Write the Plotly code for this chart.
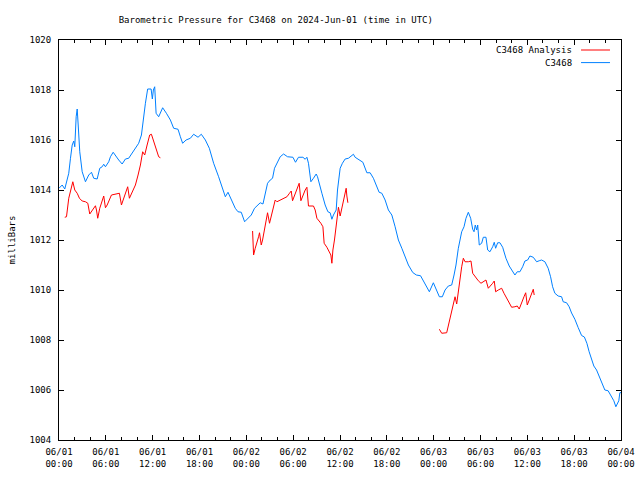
import pandas as pd
import plotly.graph_objects as go

START = pd.Timestamp("2024-06-01 00:00")

# C3468 observations: hours after 2024-06-01 00:00 UTC and pressure (mb)
blue_hours = [0, 0.41, 0.74, 1.05, 1.25, 1.47, 1.69, 1.89, 2.02, 2.2,
              2.33, 2.46, 2.66, 2.97, 3.39, 3.81, 4.16, 4.45, 4.89, 5.22,
              5.53, 5.73, 5.95, 6.37, 6.59, 6.94, 7.23, 7.65, 8.09, 8.51,
              8.93, 9.37, 9.79, 10.21, 10.56, 10.85, 11.07, 11.36, 11.8, 11.96,
              12.09, 12.26, 12.44, 12.77, 13.28, 13.76, 14.27, 14.69, 15.25, 15.55,
              15.84, 16.28, 16.83, 17.25, 17.81, 18.23, 18.75, 19.26, 19.81, 20.45,
              20.88, 21.31, 21.65, 22.07, 22.58, 22.93, 23.35, 23.78, 24.08, 24.63,
              25.05, 25.36, 25.78, 26.13, 26.42, 26.72, 27.06, 27.36, 27.61, 27.92,
              28.34, 28.77, 29.28, 29.97, 30.3, 30.68, 31.25, 31.54, 31.76, 31.96,
              32.09, 32.27, 32.6, 32.95, 33.12, 33.37, 33.68, 34.1, 34.45, 34.74,
              34.96, 35.16, 35.51, 35.68, 35.8, 36.02, 36.31, 36.66, 37.08, 37.39,
              37.72, 37.94, 38.36, 38.93, 39.44, 39.86, 40.28, 40.72, 41.01, 41.36,
              41.78, 42.2, 42.64, 43.06, 43.48, 43.92, 44.34, 44.76, 45.32, 45.78,
              46.32, 46.6, 47.12, 47.45, 47.96, 48.39, 48.73, 49.11, 49.46, 49.88,
              50.31, 50.61, 50.86, 51.16, 51.38, 51.59, 51.89, 52.14, 52.44, 52.74,
              53.0, 53.17, 53.33, 53.51, 53.64, 53.84, 54.15, 54.36, 54.7, 54.92,
              55.21, 55.56, 55.76, 55.94, 56.2, 56.49, 56.84, 57.26, 57.68, 58.12,
              58.41, 58.71, 59.05, 59.4, 59.69, 60.04, 60.33, 60.76, 61.19, 61.52,
              61.83, 62.25, 62.67, 62.98, 63.24, 63.53, 63.95, 64.39, 64.59, 65.03,
              65.36, 65.67, 66.09, 66.51, 66.95, 67.31, 67.63, 67.92, 68.23, 68.52,
              68.87, 69.2, 69.64, 69.93, 70.35, 70.79, 71.08, 71.34, 71.55, 71.72,
              71.85, 72.0]
blue_values = [1014.07, 1014.2, 1014.04, 1014.47, 1014.67, 1015.27, 1015.8, 1015.96, 1015.73, 1016.93,
               1017.24, 1016.6, 1015.53, 1014.73, 1014.33, 1014.6, 1014.71, 1014.47, 1014.44, 1014.87,
               1014.93, 1015.03, 1014.93, 1015.13, 1015.33, 1015.51, 1015.37, 1015.2, 1015.04, 1015.24,
               1015.27, 1015.47, 1015.67, 1015.87, 1016.2, 1017.0, 1017.47, 1018.04, 1018.04, 1017.64,
               1018.0, 1018.13, 1017.07, 1016.93, 1017.29, 1017.07, 1016.8, 1016.47, 1016.43, 1016.13,
               1015.87, 1016.0, 1016.07, 1016.23, 1016.11, 1016.23, 1016.0, 1015.67, 1015.07, 1014.53,
               1014.13, 1013.73, 1013.91, 1013.6, 1013.27, 1013.13, 1013.11, 1012.73, 1012.84, 1013.0,
               1013.27, 1013.36, 1013.49, 1013.44, 1013.87, 1014.27, 1014.4, 1014.47, 1014.87, 1015.07,
               1015.33, 1015.44, 1015.33, 1015.31, 1015.11, 1015.31, 1015.31, 1015.23, 1015.31, 1015.07,
               1014.67, 1014.33, 1014.47, 1014.64, 1014.53, 1014.2, 1013.87, 1013.4, 1013.13, 1013.09,
               1012.83, 1013.0, 1013.2, 1014.0, 1014.4, 1014.87, 1015.07, 1015.24, 1015.27, 1015.36,
               1015.43, 1015.31, 1015.23, 1015.11, 1014.69, 1014.69, 1014.47, 1014.13, 1013.91, 1013.87,
               1013.6, 1013.2, 1013.0, 1012.53, 1012.0, 1011.67, 1011.33, 1011.0, 1010.7, 1010.6,
               1010.57, 1010.4, 1010.07, 1009.93, 1010.29, 1009.93, 1009.73, 1009.73, 1010.0, 1010.16,
               1010.2, 1010.6, 1011.0, 1011.67, 1012.07, 1012.33, 1012.53, 1012.87, 1013.11, 1012.87,
               1012.43, 1012.33, 1012.6, 1012.4, 1012.6, 1011.8, 1011.87, 1012.11, 1012.11, 1011.6,
               1011.53, 1011.73, 1011.91, 1011.67, 1011.89, 1011.89, 1011.71, 1011.27, 1010.96, 1010.77,
               1010.6, 1010.73, 1010.73, 1010.93, 1011.16, 1011.2, 1011.36, 1011.31, 1011.13, 1011.17,
               1011.2, 1011.13, 1010.87, 1010.53, 1010.13, 1009.87, 1009.76, 1009.73, 1009.53, 1009.49,
               1009.33, 1009.08, 1008.83, 1008.5, 1008.18, 1008.12, 1007.87, 1007.53, 1007.27, 1006.96,
               1006.8, 1006.53, 1006.2, 1006.0, 1005.97, 1005.76, 1005.57, 1005.33, 1005.47, 1005.57,
               1005.89, 1005.9]

# C3468 Analysis: three separate segments
red1_hours = [0.74, 0.96, 1.25, 1.47, 1.77, 2.02, 2.33, 2.62, 2.97, 3.39,
              3.69, 3.94, 4.25, 4.67, 4.8, 4.96, 5.22, 5.53, 5.73, 5.95,
              6.17, 6.72, 7.23, 7.74, 8.0, 8.29, 8.51, 8.8, 9.02, 9.44,
              9.79, 10.13, 10.43, 10.72, 10.98, 11.29, 11.62, 11.84, 12.13, 12.44,
              12.77, 12.99]
red1_values = [1012.91, 1012.93, 1013.67, 1013.93, 1014.33, 1014.0, 1013.87, 1013.67, 1013.56, 1013.53,
               1013.47, 1013.04, 1013.16, 1013.37, 1013.2, 1012.87, 1013.27, 1013.53, 1013.76, 1013.29,
               1013.4, 1013.8, 1013.84, 1013.87, 1013.4, 1013.67, 1013.93, 1014.13, 1013.67, 1013.93,
               1014.2, 1014.6, 1015.0, 1015.53, 1015.4, 1015.8, 1016.2, 1016.23, 1015.96, 1015.67,
               1015.33, 1015.29]
red2_hours = [24.8, 24.85, 24.93, 25.14, 25.36, 25.57, 25.69, 25.91, 26.08, 26.33,
              26.55, 26.72, 26.97, 27.15, 27.41, 27.7, 27.92, 28.34, 28.77, 29.2,
              29.53, 29.75, 29.92, 30.13, 30.39, 30.61, 30.77, 30.99, 31.25, 31.54,
              31.76, 31.89, 31.96, 32.6, 32.82, 33.04, 33.24, 33.55, 33.81, 33.97,
              34.32, 34.65, 34.83, 34.96, 35.09, 35.29, 35.51, 35.68, 35.8, 36.02,
              36.24, 36.44, 36.66, 36.79, 36.88, 37.01]
red2_values = [1012.36, 1011.87, 1011.4, 1011.67, 1011.87, 1012.13, 1012.29, 1011.8, 1012.0, 1012.47,
               1012.8, 1013.09, 1012.67, 1012.93, 1013.27, 1013.6, 1013.53, 1013.6, 1013.64, 1013.73,
               1013.87, 1013.96, 1013.57, 1013.73, 1013.93, 1014.13, 1014.27, 1013.57, 1013.8, 1014.0,
               1014.11, 1013.6, 1013.36, 1013.36, 1013.2, 1012.87, 1012.8, 1012.67, 1012.53, 1011.87,
               1011.71, 1011.53, 1011.4, 1011.07, 1011.6, 1012.0, 1012.6, 1012.93, 1013.31, 1012.96,
               1013.27, 1013.57, 1013.89, 1014.07, 1013.76, 1013.49]
red3_hours = [48.73, 49.03, 49.67, 50.01, 50.31, 50.52, 50.74, 50.95, 51.16, 51.38,
              51.59, 51.8, 52.02, 52.44, 52.78, 53.0, 53.3, 53.72, 54.06, 54.36,
              54.7, 55.0, 55.3, 55.56, 55.76, 55.94, 56.28, 56.71, 57.01, 57.36,
              57.68, 57.99, 58.41, 58.71, 58.96, 59.27, 59.57, 59.79, 59.99, 60.24,
              60.55, 60.76, 60.88]
red3_values = [1008.43, 1008.27, 1008.29, 1008.73, 1009.13, 1009.47, 1009.73, 1009.44, 1010.0, 1010.4,
               1010.93, 1011.27, 1011.13, 1011.13, 1011.16, 1010.67, 1010.53, 1010.37, 1010.27, 1010.33,
               1010.4, 1010.07, 1010.16, 1010.27, 1010.36, 1009.93, 1010.0, 1010.07, 1009.87, 1009.67,
               1009.47, 1009.31, 1009.33, 1009.36, 1009.24, 1009.53, 1009.73, 1009.89, 1009.4, 1009.6,
               1009.89, 1010.03, 1009.8]

y_ticks = [1004, 1006, 1008, 1010, 1012, 1014, 1016, 1018, 1020]

RED = "#ff0000"
BLUE = "#0080ff"
FONT = "DejaVu Sans Mono"


def to_times(hours):
    return list(START + pd.to_timedelta(hours, unit="h"))


blue_x = to_times(blue_hours)
red_x, red_y = [], []
for hrs, vals in [(red1_hours, red1_values), (red2_hours, red2_values), (red3_hours, red3_values)]:
    if red_x:
        red_x.append(None)
        red_y.append(None)
    red_x.extend(to_times(hrs))
    red_y.extend(vals)

fig = go.Figure()
fig.add_trace(go.Scatter(x=red_x, y=red_y, mode="lines", name="C3468 Analysis",
                         line=dict(color=RED, width=1), connectgaps=False))
fig.add_trace(go.Scatter(x=blue_x, y=blue_values, mode="lines", name="C3468",
                         line=dict(color=BLUE, width=1)))

# gnuplot-style legend (text, then line sample on the right)
legend_items = [("C3468 Analysis", RED, 0.975), ("C3468", BLUE, 0.9435)]
for label, color, ypos in legend_items:
    fig.add_annotation(x=0.9164, y=ypos, xref="paper", yref="paper", text=label,
                       showarrow=False, xanchor="right", yanchor="middle",
                       font=dict(family=FONT, size=9, color="black"))
    fig.add_shape(type="line", xref="paper", yref="paper", x0=0.9289, x1=0.9804,
                  y0=ypos, y1=ypos, line=dict(color=color, width=1))

fig.update_layout(
    width=640, height=480,
    margin=dict(l=59, r=19, t=40, b=40, autoexpand=False),
    paper_bgcolor="white", plot_bgcolor="white",
    showlegend=False,
    font=dict(family=FONT, size=9, color="black"),
    title=dict(text="Barometric Pressure for C3468 on 2024-Jun-01 (time in UTC)",
               x=275.8 / 640, xanchor="center", xref="container",
               y=1 - 20 / 480, yanchor="middle", yref="container",
               automargin=False,
               font=dict(family=FONT, size=9, color="black")),
)
fig.update_xaxes(
    type="date", automargin=False,
    range=[START, START + pd.Timedelta(hours=72)],
    tick0=START, dtick=6 * 3600 * 1000, tickformat="%m/%d<br>%H:%M",
    ticks="inside", ticklen=5, tickcolor="black", tickwidth=1,
    minor=dict(dtick=2 * 3600 * 1000, ticks="inside", ticklen=3, tickcolor="black", showgrid=False),
    showline=True, linecolor="black", linewidth=1, mirror="ticks",
    showgrid=False, zeroline=False,
    ticklabelstandoff=3,
    tickfont=dict(family=FONT, size=9, color="black"),
)
fig.update_yaxes(
    automargin=False,
    range=[1004, 1020], tickvals=y_ticks, ticktext=[str(v) for v in y_ticks],
    ticks="inside", ticklen=5, tickcolor="black", tickwidth=1,
    showline=True, linecolor="black", linewidth=1, mirror="ticks",
    showgrid=False, zeroline=False,
    ticklabelstandoff=5,
    tickfont=dict(family=FONT, size=9, color="black"),
    title=dict(text="milliBars", font=dict(family=FONT, size=9, color="black"), standoff=12),
)

fig.write_html("out.html", config={"displayModeBar": False})

# remove the browser's default page margin so the 640x480 figure fills the window
with open("out.html", "r", encoding="utf-8") as fh:
    page = fh.read()
page = page.replace("<head>", "<head><style>html,body{margin:0;padding:0;overflow:hidden;}</style>", 1)
with open("out.html", "w", encoding="utf-8") as fh:
    fh.write(page)
